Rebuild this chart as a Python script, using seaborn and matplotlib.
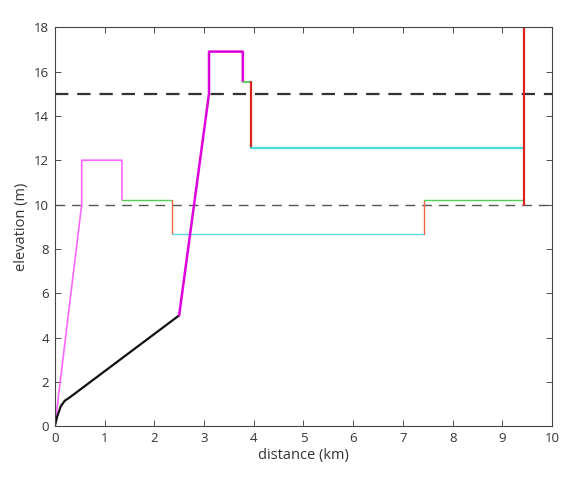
import pandas as pd
import matplotlib
matplotlib.use("Agg")
import matplotlib.pyplot as plt
import seaborn as sns

# path pieces (distance km, elevation m)
black_x = [0.0, 0.05, 0.12, 0.2, 0.3, 2.5]
black_y = [0.0, 0.45, 0.9, 1.15, 1.3, 5.0]

pink_x = [0.0, 0.54, 0.54, 1.35, 1.35]
pink_y = [0.0, 10.0, 12.0, 12.0, 10.2]

magenta_x = [2.5, 3.1, 3.1, 3.78, 3.78]
magenta_y = [5.0, 15.0, 16.9, 16.9, 15.55]

green_a_x = [1.35, 2.35]
green_a_y = [10.2, 10.2]
green_b_x = [3.78, 3.94]
green_b_y = [15.55, 15.55]
green_c_x = [7.42, 9.44]
green_c_y = [10.2, 10.2]

red_thin_a_x = [2.35, 2.35]
red_thin_a_y = [10.2, 8.65]
red_thin_b_x = [7.42, 7.42]
red_thin_b_y = [8.65, 10.2]

cyan_a_x = [2.35, 7.42]
cyan_a_y = [8.65, 8.65]
cyan_b_x = [3.94, 9.44]
cyan_b_y = [12.57, 12.57]

red_a_x = [3.94, 3.94]
red_a_y = [15.55, 12.57]
red_b_x = [9.44, 9.44]
red_b_y = [10.0, 18.0]

upper_level = 15.0
lower_level = 10.0

sns.set_style("ticks")
plt.rcParams['font.family'] = ['Open Sans', 'DejaVu Sans']

fig = plt.figure(figsize=(5.71, 4.86), dpi=100)
ax = fig.add_axes([0.096, 0.123, 0.871, 0.821])

def seg(x, y, color, lw):
    df = pd.DataFrame({'x': x, 'y': y})
    sns.lineplot(data=df, x='x', y='y', sort=False, estimator=None,
                 color=color, linewidth=lw, ax=ax)

ax.axhline(lower_level, color='#555555', linewidth=1.0, dashes=(7, 5))
ax.axhline(upper_level, color='#333333', linewidth=1.6, dashes=(6, 4))

seg(pink_x, pink_y, '#ff66ff', 1.2)
seg(green_a_x, green_a_y, '#55cc55', 1.0)
seg(red_thin_a_x, red_thin_a_y, '#ee6644', 1.0)
seg(cyan_a_x, cyan_a_y, '#55dddd', 1.0)
seg(red_thin_b_x, red_thin_b_y, '#ee6644', 1.0)
seg(green_c_x, green_c_y, '#55cc55', 1.0)
seg(black_x, black_y, '#111111', 1.6)
seg(magenta_x, magenta_y, '#dd00dd', 1.8)
seg(green_b_x, green_b_y, '#55cc55', 1.3)
seg(red_a_x, red_a_y, '#dd2222', 1.6)
seg(cyan_b_x, cyan_b_y, '#44dddd', 1.6)
seg(red_b_x, red_b_y, '#dd2222', 1.6)

ax.set_xlim(0, 10)
ax.set_ylim(0, 18)
ax.set_xticks(range(0, 11))
ax.set_yticks(range(0, 19, 2))
ax.set_xlabel('distance (km)', fontsize=10.5, color='#333333', labelpad=2)
ax.set_ylabel('elevation (m)', fontsize=10.5, color='#333333', labelpad=4)
ax.tick_params(direction='in', top=True, right=True, length=4, width=0.6,
               labelsize=9.5, colors='#333333', pad=4)
for s in ax.spines.values():
    s.set_linewidth(0.8)
    s.set_color('#444444')

fig.savefig('out.png', dpi=100)
